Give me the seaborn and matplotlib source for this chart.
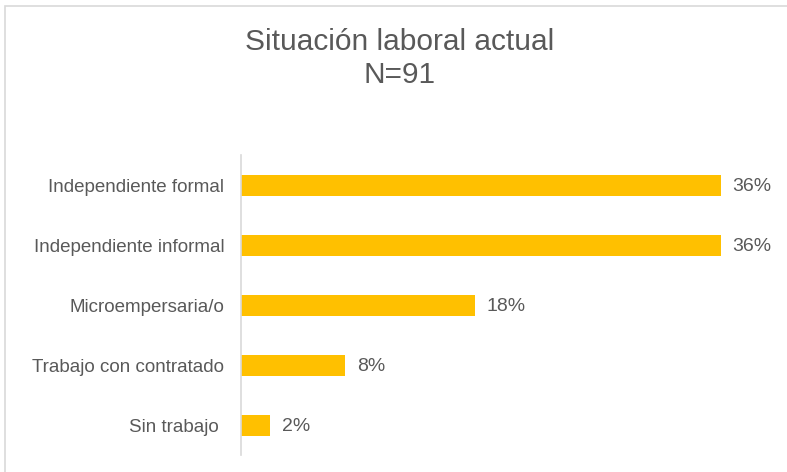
import matplotlib
matplotlib.use("Agg")
import matplotlib.pyplot as plt
import seaborn as sns
import pandas as pd
from matplotlib.patches import Rectangle

categories = ["Independiente formal", "Independiente informal", "Microempersaria/o",
              "Trabajo con contratado", "Sin trabajo "]
values = [36.3, 36.3, 17.7, 7.9, 2.2]
labels = ["36%", "36%", "18%", "8%", "2%"]

sns.set_theme(style="white")
plt.rcParams['font.family'] = ['Liberation Sans', 'DejaVu Sans']

df = pd.DataFrame({"cat": categories, "val": values})

fig = plt.figure(figsize=(7.87, 4.72), dpi=100)
fig.patches.append(Rectangle((5/787, -0.1), 1.2, 1 - 6/472 + 0.1, transform=fig.transFigure,
                             fill=False, edgecolor="#D9D9D9", linewidth=1.2))
ax = fig.add_axes([241/787, 1 - 455/472, 1 - 241/787, (455-155)/472])
sns.barplot(data=df, x="val", y="cat", color="#FFC000", width=0.35, ax=ax,
            saturation=1, edgecolor="none")
ax.set_xlim(0, (787-241)/13.21)
ax.set_ylim(4.5, -0.5)
ax.set_xlabel("")
ax.set_ylabel("")
ax.set_xticks([])
for s in ["top", "right", "bottom"]:
    ax.spines[s].set_visible(False)
ax.spines["left"].set_color("#D9D9D9")
ax.spines["left"].set_linewidth(1.2)
ax.tick_params(axis="y", length=0, pad=12, labelsize=13.5, labelcolor="#595959")
for i, (v, lab) in enumerate(zip(values, labels)):
    ax.text(v + 0.9, i + 0.02, lab, va="center", ha="left", fontsize=14, color="#595959")

fig.text(400/787, 1 - 42/472, "Situación laboral actual", ha="center", va="center",
         fontsize=21.5, color="#595959")
fig.text(400/787, 1 - 75/472, "N=91", ha="center", va="center",
         fontsize=21.5, color="#595959")

fig.savefig("out.png", dpi=100, facecolor="white")
